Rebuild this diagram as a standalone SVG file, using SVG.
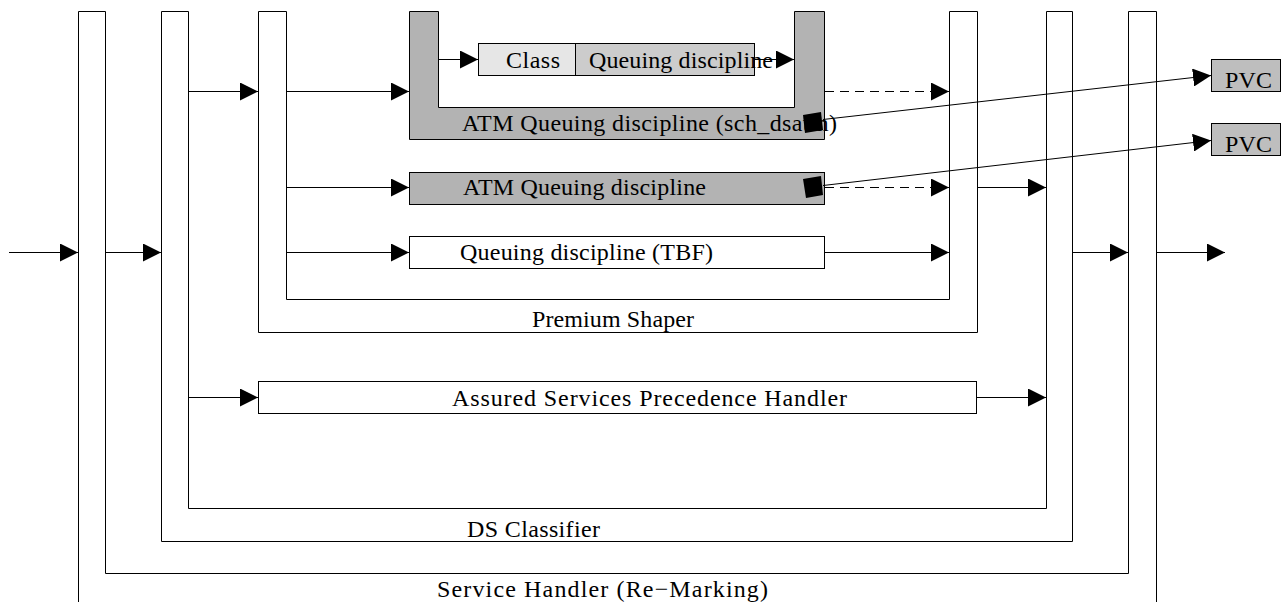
<svg xmlns="http://www.w3.org/2000/svg" width="1283" height="602" viewBox="0 0 1283 602">
<style>
.ln{fill:none;stroke:#000;stroke-width:1}
.box{stroke:#000;stroke-width:1}
.t{font-family:"Liberation Serif","Times New Roman",serif;font-size:24px;fill:#000}
.ar{fill:none;stroke:#000;stroke-width:1;marker-end:url(#ah)}
.dash{stroke-dasharray:9 6}
</style>
<defs>
<marker id="ah" markerWidth="18" markerHeight="18" refX="18" refY="9" orient="auto" markerUnits="userSpaceOnUse">
<path d="M0,0 L18,9 L0,18 Z" fill="#000"/>
</marker>
</defs>
<rect width="1283" height="602" fill="#fff"/>
<g id="service-handler">
<path class="box" fill="#fff" d="M78.5,602 V11.5 H105.5 V573.5 H1128.5 V11.5 H1156.5 V602"/>
<text class="t" x="437" y="597" textLength="331" lengthAdjust="spacing">Service Handler (Re−Marking)</text>
</g>
<g id="ds-classifier">
<path class="box" fill="#fff" d="M161.5,541.5 V11.5 H188.5 V508.5 H1046.5 V11.5 H1072.5 V541.5 Z"/>
<text class="t" x="467" y="537" textLength="133" lengthAdjust="spacing">DS Classifier</text>
</g>
<g id="premium-shaper">
<path class="box" fill="#fff" d="M258.5,332.5 V11.5 H286.5 V299.5 H949.5 V11.5 H977.5 V332.5 Z"/>
<text class="t" x="532" y="327" textLength="162" lengthAdjust="spacing">Premium Shaper</text>
</g>
<g id="atm-sch-dsatm">
<path class="box" fill="#b3b3b3" d="M409.5,139.5 V11.5 H438.5 V107.5 H794.5 V11.5 H824.5 V139.5 Z"/>
<text class="t" x="462" y="131" textLength="375" lengthAdjust="spacing">ATM Queuing discipline (sch_dsatm)</text>
</g>
<g id="class">
<rect class="box" x="478.5" y="43.5" width="97" height="32" fill="#e6e6e6"/>
<text class="t" x="506" y="68" textLength="54" lengthAdjust="spacing">Class</text>
</g>
<g id="class-qdisc">
<rect class="box" x="575.5" y="43.5" width="179" height="32" fill="#cccccc"/>
<text class="t" x="589" y="68" textLength="184" lengthAdjust="spacing">Queuing discipline</text>
</g>
<g id="atm-qdisc">
<rect class="box" x="409.5" y="172.5" width="415" height="32" fill="#b3b3b3"/>
<text class="t" x="463" y="195" textLength="243" lengthAdjust="spacing">ATM Queuing discipline</text>
</g>
<g id="tbf-qdisc">
<rect class="box" x="409.5" y="236.5" width="415" height="32" fill="#fff"/>
<text class="t" x="460" y="260" textLength="253" lengthAdjust="spacing">Queuing discipline (TBF)</text>
</g>
<g id="assured">
<rect class="box" x="258.5" y="381.5" width="718" height="32" fill="#fff"/>
<text class="t" x="452" y="406" textLength="395" lengthAdjust="spacing">Assured Services Precedence Handler</text>
</g>
<g id="pvc1">
<rect class="box" x="1211.5" y="59.5" width="69" height="32" fill="#bebebe"/>
<text class="t" x="1225" y="88" textLength="47" lengthAdjust="spacing">PVC</text>
</g>
<g id="pvc2">
<rect class="box" x="1211.5" y="123.5" width="69" height="32" fill="#bebebe"/>
<text class="t" x="1225" y="152" textLength="47" lengthAdjust="spacing">PVC</text>
</g>
<g id="connectors">
<line class="ar" x1="9" y1="252.5" x2="78" y2="252.5"/>
<line class="ar" x1="106" y1="252.5" x2="161" y2="252.5"/>
<line class="ar" x1="286" y1="252.5" x2="409" y2="252.5"/>
<line class="ar" x1="825" y1="252.5" x2="949" y2="252.5"/>
<line class="ar" x1="1073" y1="252.5" x2="1128" y2="252.5"/>
<line class="ar" x1="1157" y1="252.5" x2="1225" y2="252.5"/>
<line class="ar" x1="188" y1="91.5" x2="258" y2="91.5"/>
<line class="ar" x1="286" y1="91.5" x2="409" y2="91.5"/>
<line class="ar" x1="438" y1="59.5" x2="478" y2="59.5"/>
<line class="ar" x1="754" y1="59.5" x2="794" y2="59.5"/>
<line class="ar dash" x1="825" y1="91.5" x2="949" y2="91.5"/>
<line class="ar" x1="286" y1="187.5" x2="409" y2="187.5"/>
<line class="ar dash" x1="825" y1="187.5" x2="949" y2="187.5"/>
<line class="ar" x1="977" y1="187.5" x2="1046" y2="187.5"/>
<line class="ar" x1="188" y1="397.5" x2="258" y2="397.5"/>
<line class="ar" x1="977" y1="397.5" x2="1046" y2="397.5"/>
<line class="ar" x1="823" y1="119.5" x2="1211" y2="75.5"/>
<line class="ar" x1="823" y1="185.5" x2="1211" y2="140.5"/>
<polygon points="803,115 821,112 823,130 805,133" fill="#000"/>
<polygon points="803,179 821,176 823,195 806,198" fill="#000"/>
</g>
</svg>
